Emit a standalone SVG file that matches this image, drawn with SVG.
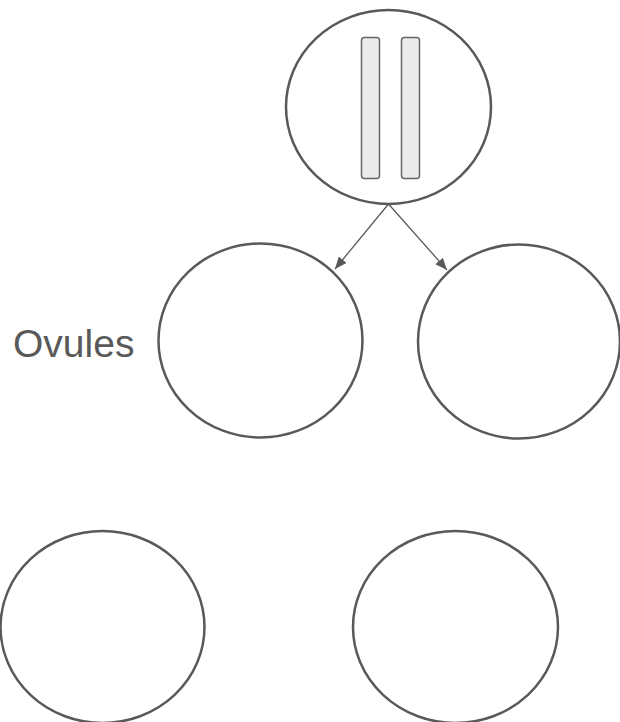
<svg xmlns="http://www.w3.org/2000/svg" width="620" height="722" viewBox="0 0 620 722">
<style>
.c{fill:#fff;stroke:#595959;stroke-width:2.5}
.bar{fill:#ebebeb;stroke:#666;stroke-width:1.5}
.e{stroke:#595959;stroke-width:1.3;fill:none}
.t{font-family:"Liberation Sans",Arial,sans-serif;font-size:39px;fill:#595959}
</style>
<defs>
<marker id="ah" viewBox="0 0 12 10" refX="12" refY="5" markerWidth="12" markerHeight="10" markerUnits="userSpaceOnUse" orient="auto">
<path d="M0,0 L12,5 L0,10 z" fill="#595959"/>
</marker>
</defs>
<rect width="620" height="722" fill="#fff"/>
<g id="parent">
<ellipse class="c" cx="388.5" cy="107" rx="102.5" ry="97"/>
<rect class="bar" x="361.5" y="37.5" width="18" height="141" rx="3"/>
<rect class="bar" x="401.5" y="37.5" width="18" height="141" rx="3"/>
</g>
<g id="connectors">
<line class="e" x1="388.5" y1="204" x2="335" y2="269" marker-end="url(#ah)"/>
<line class="e" x1="388.5" y1="204" x2="447" y2="270" marker-end="url(#ah)"/>
</g>
<g id="ovule1"><ellipse class="c" cx="260.5" cy="340.5" rx="102" ry="97"/></g>
<g id="ovule2"><ellipse class="c" cx="519" cy="341.5" rx="101" ry="97"/></g>
<g id="label"><text class="t" x="13" y="357">Ovules</text></g>
<g id="cell3"><ellipse class="c" cx="102.5" cy="627" rx="102" ry="96"/></g>
<g id="cell4"><ellipse class="c" cx="455.5" cy="627" rx="102.5" ry="96"/></g>
</svg>
